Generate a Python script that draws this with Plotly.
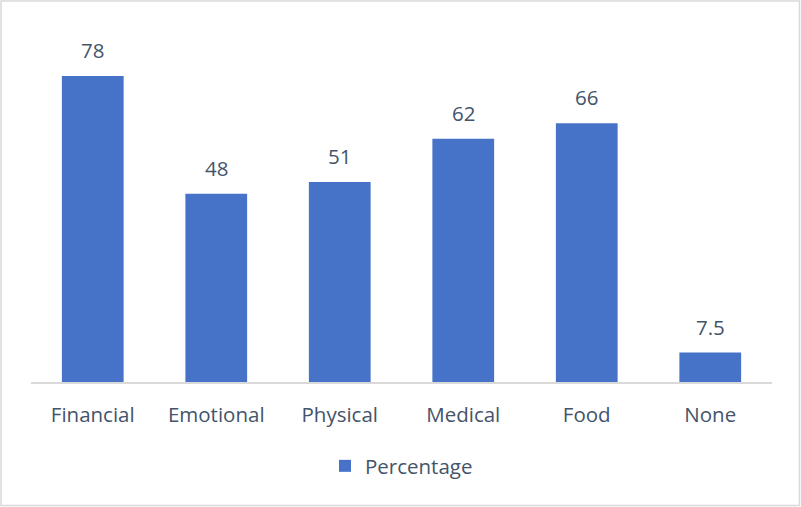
import plotly.graph_objects as go

categories = ["Financial", "Emotional", "Physical", "Medical", "Food", "None"]
values = [78, 48, 51, 62, 66, 7.5]
labels = ["78", "48", "51", "62", "66", "7.5"]

text_color = "#44546A"
font_family = "Open Sans, Noto Sans, sans-serif"
fs = 20.5

fig = go.Figure()
fig.add_trace(go.Bar(
    x=categories, y=values, name="Percentage",
    marker=dict(color="#4673C8", line=dict(width=0)),
    showlegend=True,
))

for c, v, t in zip(categories, values, labels):
    fig.add_annotation(x=c, y=v, text=t, showarrow=False, yanchor="bottom",
                       yshift=10, font=dict(size=fs, color=text_color, family=font_family))

W, H = 801, 507
ml, mr, mt, mb = 31, 29, 29, 125
pw, ph = W - ml - mr, H - mt - mb
fig.add_shape(type="rect", xref="paper", yref="paper",
              x0=(1 - ml) / pw, x1=(W - 1.5 - ml) / pw,
              y0=(mt + ph - (H - 1.5)) / ph, y1=(mt + ph - 1) / ph,
              line=dict(color="#D9D9D9", width=1.5), layer="below")

fig.update_layout(
    width=W, height=H,
    margin=dict(l=ml, r=mr, t=mt, b=mb),
    paper_bgcolor="white", plot_bgcolor="white",
    bargap=0.5,
    font=dict(family=font_family, size=fs, color=text_color),
    xaxis=dict(showline=True, linecolor="#D9D9D9", linewidth=2, ticks="",
               showgrid=False, ticklabelstandoff=13,
               tickfont=dict(size=fs, color=text_color)),
    yaxis=dict(range=[0, 90], visible=False, showgrid=False, zeroline=False),
    legend=dict(orientation="h", x=0.5, xanchor="center", y=-0.238, yanchor="middle",
                font=dict(size=fs, color=text_color), itemwidth=30),
)

fig.write_html("out.html")
